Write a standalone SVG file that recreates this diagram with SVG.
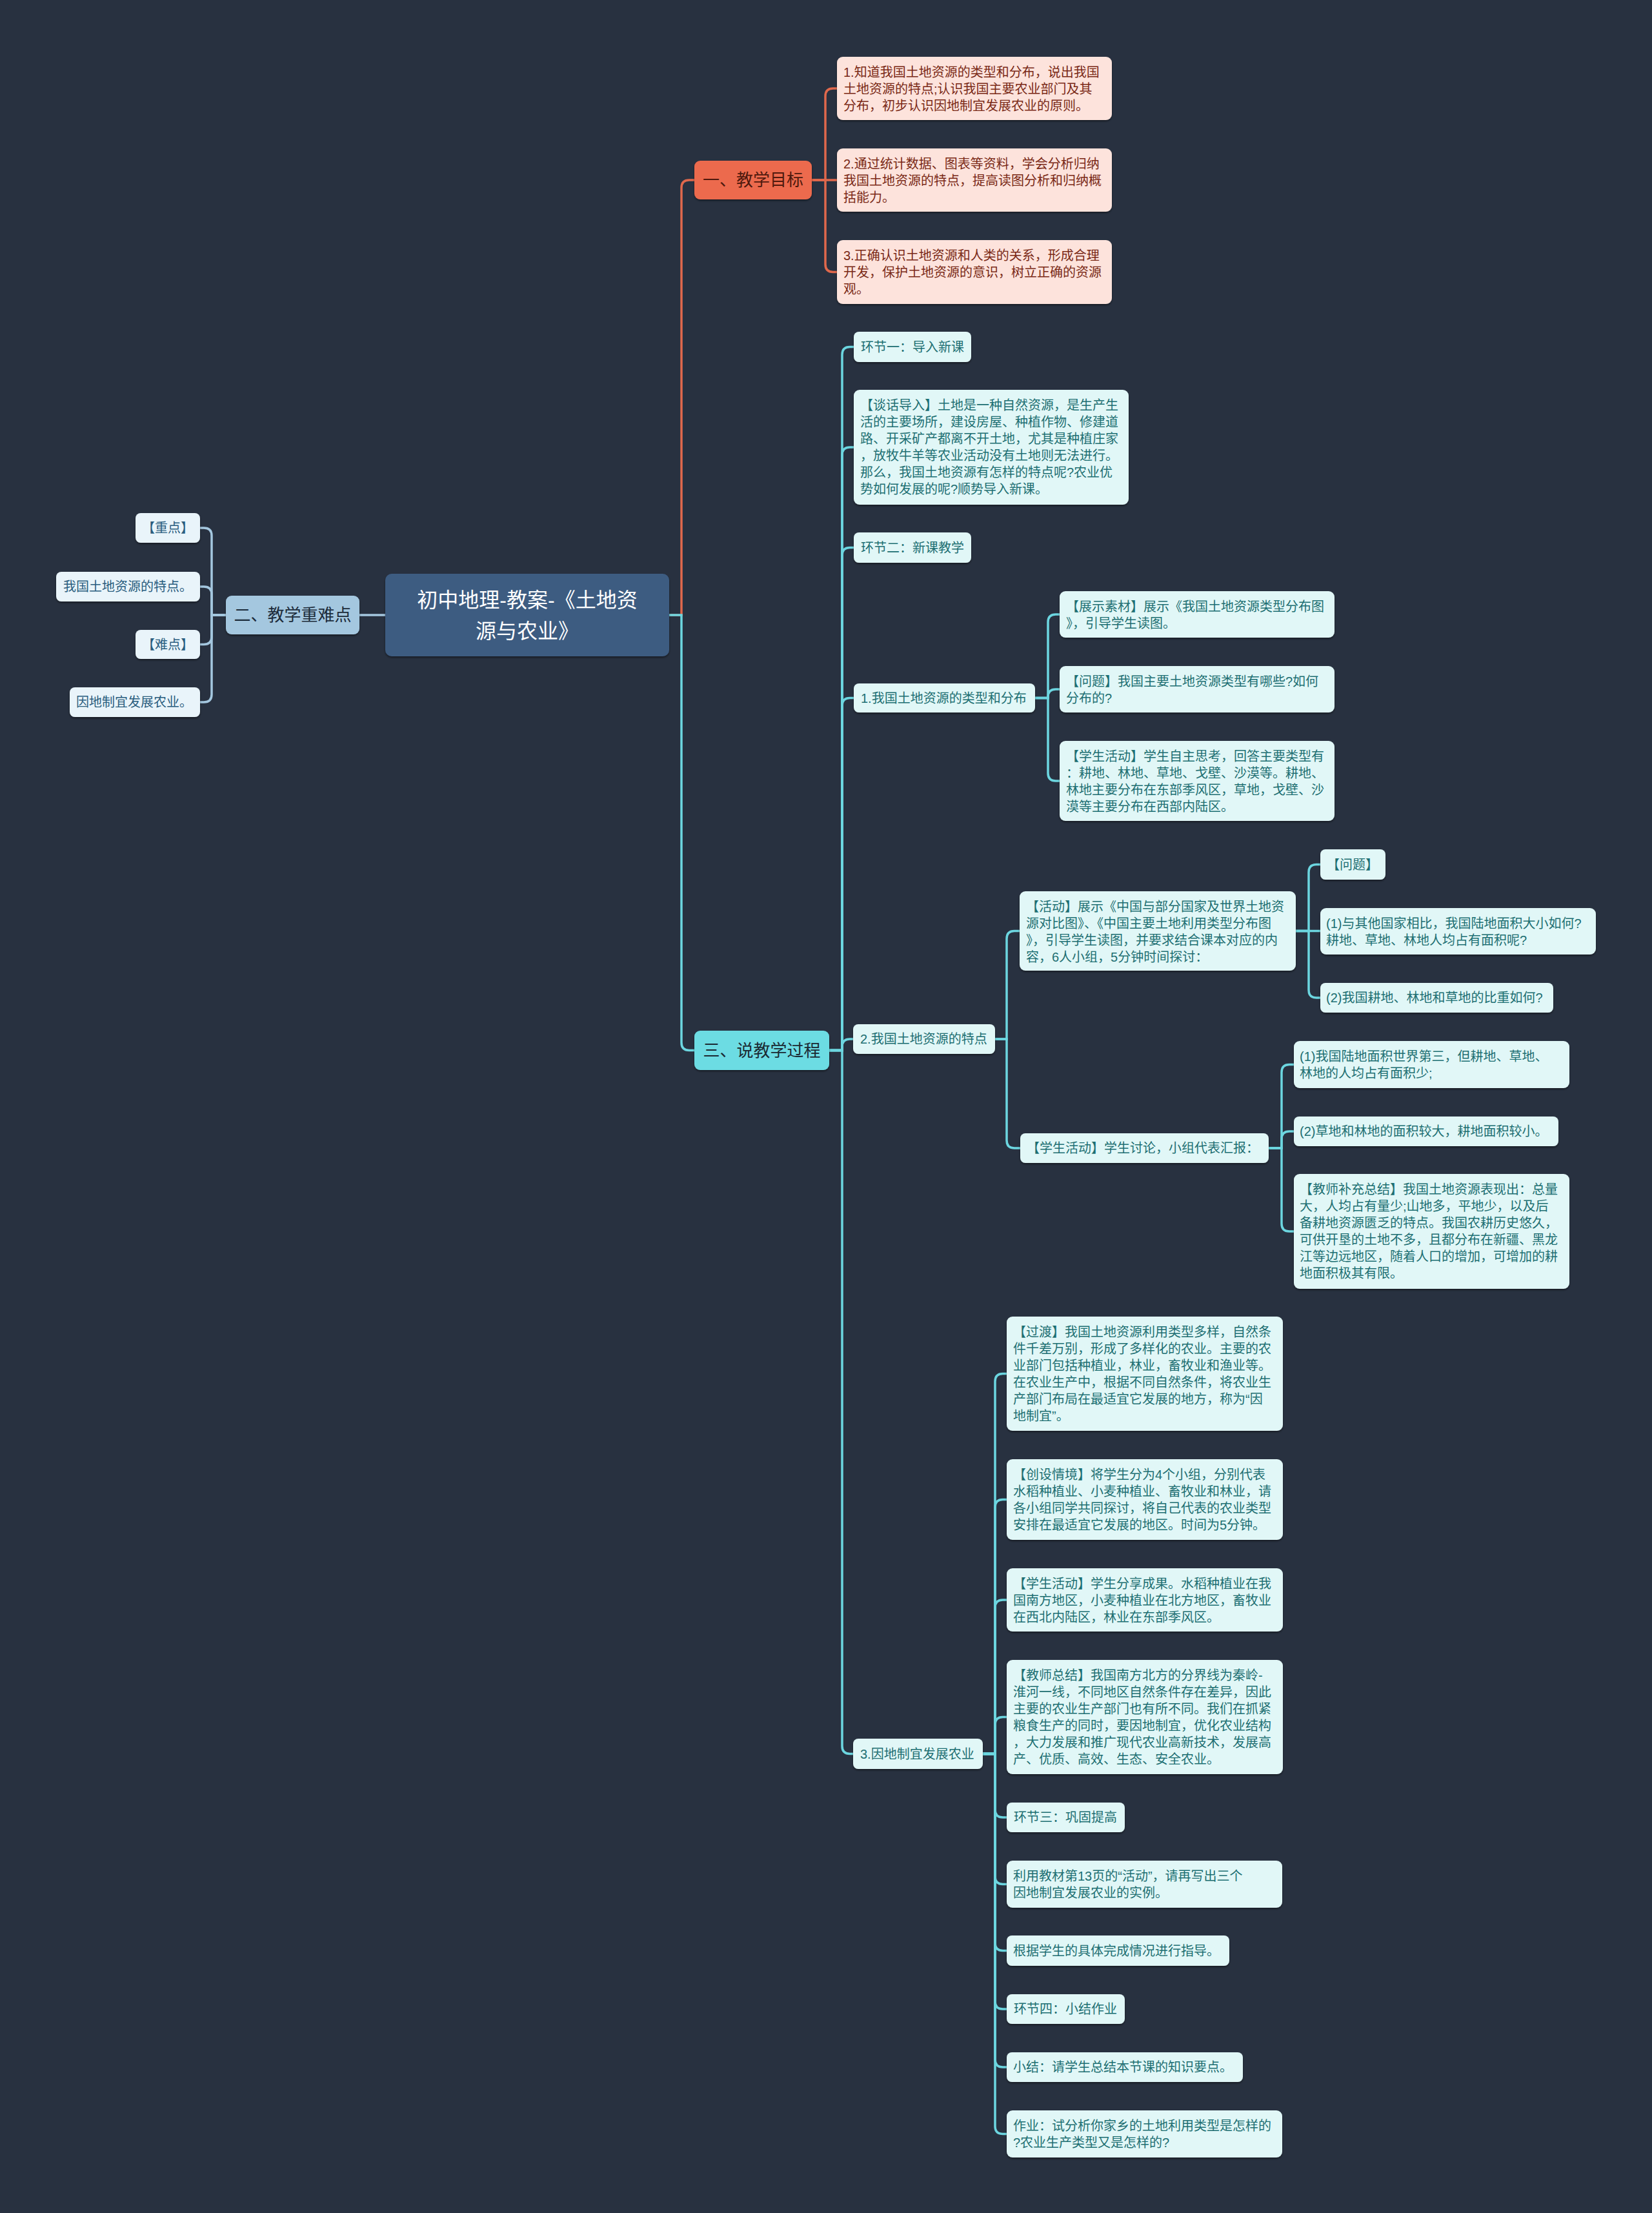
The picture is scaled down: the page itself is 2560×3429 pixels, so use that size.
<svg xmlns="http://www.w3.org/2000/svg" width="2560" height="3429" viewBox="0 0 2560 3429">
<defs>
<filter id="sh" x="-5%" y="-10%" width="110%" height="130%">
<feDropShadow dx="0" dy="2" stdDeviation="1.5" flood-color="#000" flood-opacity="0.45"/>
</filter>
</defs>
<style>
text{font-family:"Liberation Sans","Noto Sans CJK SC",sans-serif;font-size:20px}
.bg{fill:#283140}
.root rect{fill:#3d5b81;filter:url(#sh)}
.root text{fill:#ffffff;font-size:32px;text-anchor:middle}
.o1 rect{fill:#ec6a4d;filter:url(#sh)}
.o1 text{fill:#4f190d;font-size:26px;text-anchor:middle}
.o2 rect{fill:#fde3dc;filter:url(#sh)}
.o2 text{fill:#7a2916}
.b1 rect{fill:#a4c7df;filter:url(#sh)}
.b1 text{fill:#1c2b3a;font-size:26px;text-anchor:middle}
.b2 rect{fill:#e9f4fa;filter:url(#sh)}
.b2 text{fill:#2a5d7e}
.c1 rect{fill:#6cdce3;filter:url(#sh)}
.c1 text{fill:#1b2a33;font-size:26px;text-anchor:middle}
.c2 rect{fill:#e1f7f7;filter:url(#sh)}
.c2 text{fill:#1d6f72}
.lo{fill:none;stroke:#e0684c;stroke-width:3.5}
.lb{fill:none;stroke:#a4c7df;stroke-width:3.5}
.lc{fill:none;stroke:#6cd6e0;stroke-width:3.5}
</style>
<rect class="bg" x="0" y="0" width="2560" height="3429"/>

<g id="connectors">
<!-- trunk -->
<path class="lo" d="M1037,953 H1056 V291 Q1056,279 1068,279 H1076"/>
<path class="lc" d="M1037,953 H1056 V1615.5 Q1056,1627.5 1068,1627.5 H1076"/>
<path class="lb" d="M597,953 H557"/>
<!-- 一 children -->
<path class="lo" d="M1258,279 H1279 V149 Q1279,137 1291,137 H1297"/>
<path class="lo" d="M1258,279 H1297"/>
<path class="lo" d="M1258,279 H1279 V409.5 Q1279,421.5 1291,421.5 H1297"/>
<!-- 二 children -->
<path class="lb" d="M350,953 H328 V830 Q328,818 316,818 H310"/>
<path class="lb" d="M350,953 H328 V921 Q328,909 316,909 H310"/>
<path class="lb" d="M350,953 H328 V986.5 Q328,998.5 316,998.5 H310"/>
<path class="lb" d="M350,953 H328 V1076 Q328,1088 316,1088 H310"/>
<!-- 三 children -->
<path class="lc" d="M1285,1627.5 H1305 V549.5 Q1305,537.5 1317,537.5 H1323"/>
<path class="lc" d="M1285,1627.5 H1305 V705 Q1305,693 1317,693 H1323"/>
<path class="lc" d="M1285,1627.5 H1305 V860.5 Q1305,848.5 1317,848.5 H1323"/>
<path class="lc" d="M1285,1627.5 H1305 V1093.5 Q1305,1081.5 1317,1081.5 H1323"/>
<path class="lc" d="M1285,1627.5 H1305 V1622 Q1305,1610 1317,1610 H1322"/>
<path class="lc" d="M1285,1627.5 H1305 V2705.5 Q1305,2717.5 1317,2717.5 H1322"/>
<!-- 1. children -->
<path class="lc" d="M1604,1081.5 H1624 V964 Q1624,952 1636,952 H1642"/>
<path class="lc" d="M1604,1081.5 H1624 V1080 Q1624,1068 1636,1068 H1642"/>
<path class="lc" d="M1604,1081.5 H1624 V1198 Q1624,1210 1636,1210 H1642"/>
<!-- 2. children -->
<path class="lc" d="M1542,1610 H1560 V1454.5 Q1560,1442.5 1572,1442.5 H1580"/>
<path class="lc" d="M1542,1610 H1560 V1767 Q1560,1779 1572,1779 H1581"/>
<!-- 活动 children -->
<path class="lc" d="M2008,1442.5 H2028 V1351.5 Q2028,1339.5 2040,1339.5 H2046"/>
<path class="lc" d="M2008,1442.5 H2046"/>
<path class="lc" d="M2008,1442.5 H2028 V1534 Q2028,1546 2040,1546 H2046"/>
<!-- 讨论 children -->
<path class="lc" d="M1966,1779 H1986 V1661.5 Q1986,1649.5 1998,1649.5 H2005"/>
<path class="lc" d="M1966,1779 H1986 V1765 Q1986,1753 1998,1753 H2005"/>
<path class="lc" d="M1966,1779 H1986 V1896 Q1986,1908 1998,1908 H2005"/>
<!-- 3. children -->
<path class="lc" d="M1523,2717.5 H1542 V2140.5 Q1542,2128.5 1554,2128.5 H1560"/>
<path class="lc" d="M1523,2717.5 H1542 V2335.5 Q1542,2323.5 1554,2323.5 H1560"/>
<path class="lc" d="M1523,2717.5 H1542 V2491 Q1542,2479 1554,2479 H1560"/>
<path class="lc" d="M1523,2717.5 H1542 V2672.5 Q1542,2660.5 1554,2660.5 H1560"/>
<path class="lc" d="M1523,2717.5 H1542 V2804 Q1542,2816 1554,2816 H1560"/>
<path class="lc" d="M1523,2717.5 H1542 V2907.5 Q1542,2919.5 1554,2919.5 H1560"/>
<path class="lc" d="M1523,2717.5 H1542 V3010.5 Q1542,3022.5 1554,3022.5 H1560"/>
<path class="lc" d="M1523,2717.5 H1542 V3101 Q1542,3113 1554,3113 H1560"/>
<path class="lc" d="M1523,2717.5 H1542 V3191 Q1542,3203 1554,3203 H1560"/>
<path class="lc" d="M1523,2717.5 H1542 V3294.5 Q1542,3306.5 1554,3306.5 H1560"/>
</g>

<g id="root" class="root">
<rect x="597" y="889" width="440" height="128" rx="10"/>
<text x="817" y="941">初中地理-教案-《土地资</text>
<text x="817" y="989">源与农业》</text>
</g>

<g id="n1" class="o1">
<rect x="1076" y="249" width="182" height="60" rx="9"/>
<text x="1167" y="288">一、教学目标</text>
</g>
<g id="n1a" class="o2">
<rect x="1297" y="88" width="426" height="98" rx="9"/>
<text x="1307" y="119">1.知道我国土地资源的类型和分布，说出我国</text>
<text x="1307" y="145">土地资源的特点;认识我国主要农业部门及其</text>
<text x="1307" y="171">分布，初步认识因地制宜发展农业的原则。</text>
</g>
<g id="n1b" class="o2">
<rect x="1297" y="230" width="426" height="98" rx="9"/>
<text x="1307" y="261">2.通过统计数据、图表等资料，学会分析归纳</text>
<text x="1307" y="287">我国土地资源的特点，提高读图分析和归纳概</text>
<text x="1307" y="313">括能力。</text>
</g>
<g id="n1c" class="o2">
<rect x="1297" y="372" width="426" height="99" rx="9"/>
<text x="1307" y="403">3.正确认识土地资源和人类的关系，形成合理</text>
<text x="1307" y="429">开发，保护土地资源的意识，树立正确的资源</text>
<text x="1307" y="455">观。</text>
</g>

<g id="n2" class="b1">
<rect x="350" y="923" width="207" height="60" rx="9"/>
<text x="453.5" y="962">二、教学重难点</text>
</g>
<g id="n2a" class="b2">
<rect x="210" y="795" width="100" height="46" rx="8"/>
<text x="220" y="825">【重点】</text>
</g>
<g id="n2b" class="b2">
<rect x="87" y="886" width="223" height="46" rx="8"/>
<text x="98" y="916">我国土地资源的特点。</text>
</g>
<g id="n2c" class="b2">
<rect x="210" y="976" width="100" height="45" rx="8"/>
<text x="220" y="1006">【难点】</text>
</g>
<g id="n2d" class="b2">
<rect x="108" y="1065" width="202" height="46" rx="8"/>
<text x="118" y="1095">因地制宜发展农业。</text>
</g>

<g id="n3" class="c1">
<rect x="1076" y="1597" width="209" height="61" rx="9"/>
<text x="1180.5" y="1637">三、说教学过程</text>
</g>

<g id="s1" class="c2">
<rect x="1323" y="514" width="182" height="47" rx="8"/>
<text x="1334" y="545">环节一：导入新课</text>
</g>
<g id="s2" class="c2">
<rect x="1323" y="604" width="426" height="178" rx="9"/>
<text x="1333" y="635">【谈话导入】土地是一种自然资源，是生产生</text>
<text x="1333" y="661">活的主要场所，建设房屋、种植作物、修建道</text>
<text x="1333" y="687">路、开采矿产都离不开土地，尤其是种植庄家</text>
<text x="1333" y="713">，放牧牛羊等农业活动没有土地则无法进行。</text>
<text x="1333" y="739">那么，我国土地资源有怎样的特点呢?农业优</text>
<text x="1333" y="765">势如何发展的呢?顺势导入新课。</text>
</g>
<g id="s3" class="c2">
<rect x="1323" y="825" width="182" height="47" rx="8"/>
<text x="1334" y="856">环节二：新课教学</text>
</g>

<g id="p1" class="c2">
<rect x="1323" y="1059" width="281" height="45" rx="8"/>
<text x="1334" y="1089">1.我国土地资源的类型和分布</text>
</g>
<g id="p1a" class="c2">
<rect x="1642" y="916" width="426" height="72" rx="9"/>
<text x="1652" y="947">【展示素材】展示《我国土地资源类型分布图</text>
<text x="1652" y="973">》，引导学生读图。</text>
</g>
<g id="p1b" class="c2">
<rect x="1642" y="1032" width="426" height="72" rx="9"/>
<text x="1652" y="1063">【问题】我国主要土地资源类型有哪些?如何</text>
<text x="1652" y="1089">分布的?</text>
</g>
<g id="p1c" class="c2">
<rect x="1642" y="1148" width="426" height="124" rx="9"/>
<text x="1652" y="1179">【学生活动】学生自主思考，回答主要类型有</text>
<text x="1652" y="1205">：耕地、林地、草地、戈壁、沙漠等。耕地、</text>
<text x="1652" y="1231">林地主要分布在东部季风区，草地，戈壁、沙</text>
<text x="1652" y="1257">漠等主要分布在西部内陆区。</text>
</g>

<g id="p2" class="c2">
<rect x="1322" y="1587" width="220" height="46" rx="8"/>
<text x="1333" y="1617">2.我国土地资源的特点</text>
</g>
<g id="p2a" class="c2">
<rect x="1580" y="1381" width="428" height="123" rx="9"/>
<text x="1590" y="1412">【活动】展示《中国与部分国家及世界土地资</text>
<text x="1590" y="1438">源对比图》、《中国主要土地利用类型分布图</text>
<text x="1590" y="1464">》，引导学生读图，并要求结合课本对应的内</text>
<text x="1590" y="1490">容，6人小组，5分钟时间探讨：</text>
</g>
<g id="p2a1" class="c2">
<rect x="2046" y="1316" width="101" height="47" rx="8"/>
<text x="2056" y="1347">【问题】</text>
</g>
<g id="p2a2" class="c2">
<rect x="2046" y="1407" width="427" height="72" rx="9"/>
<text x="2055" y="1438">(1)与其他国家相比，我国陆地面积大小如何?</text>
<text x="2055" y="1464">耕地、草地、林地人均占有面积呢?</text>
</g>
<g id="p2a3" class="c2">
<rect x="2046" y="1523" width="361" height="46" rx="8"/>
<text x="2055" y="1553">(2)我国耕地、林地和草地的比重如何?</text>
</g>
<g id="p2b" class="c2">
<rect x="1581" y="1756" width="385" height="46" rx="8"/>
<text x="1591" y="1786">【学生活动】学生讨论，小组代表汇报：</text>
</g>
<g id="p2b1" class="c2">
<rect x="2005" y="1613" width="427" height="73" rx="9"/>
<text x="2014" y="1644">(1)我国陆地面积世界第三，但耕地、草地、</text>
<text x="2014" y="1670">林地的人均占有面积少;</text>
</g>
<g id="p2b2" class="c2">
<rect x="2005" y="1730" width="410" height="46" rx="8"/>
<text x="2014" y="1760">(2)草地和林地的面积较大，耕地面积较小。</text>
</g>
<g id="p2b3" class="c2">
<rect x="2005" y="1819" width="427" height="178" rx="9"/>
<text x="2014" y="1850">【教师补充总结】我国土地资源表现出：总量</text>
<text x="2014" y="1876">大，人均占有量少;山地多，平地少，以及后</text>
<text x="2014" y="1902">备耕地资源匮乏的特点。我国农耕历史悠久，</text>
<text x="2014" y="1928">可供开垦的土地不多，且都分布在新疆、黑龙</text>
<text x="2014" y="1954">江等边远地区，随着人口的增加，可增加的耕</text>
<text x="2014" y="1980">地面积极其有限。</text>
</g>

<g id="p3" class="c2">
<rect x="1322" y="2694" width="201" height="47" rx="8"/>
<text x="1333" y="2725">3.因地制宜发展农业</text>
</g>
<g id="p3a" class="c2">
<rect x="1560" y="2040" width="428" height="177" rx="9"/>
<text x="1570" y="2071">【过渡】我国土地资源利用类型多样，自然条</text>
<text x="1570" y="2097">件千差万别，形成了多样化的农业。主要的农</text>
<text x="1570" y="2123">业部门包括种植业，林业，畜牧业和渔业等。</text>
<text x="1570" y="2149">在农业生产中，根据不同自然条件，将农业生</text>
<text x="1570" y="2175">产部门布局在最适宜它发展的地方，称为“因</text>
<text x="1570" y="2201">地制宜”。</text>
</g>
<g id="p3b" class="c2">
<rect x="1560" y="2261" width="428" height="125" rx="9"/>
<text x="1570" y="2292">【创设情境】将学生分为4个小组，分别代表</text>
<text x="1570" y="2318">水稻种植业、小麦种植业、畜牧业和林业，请</text>
<text x="1570" y="2344">各小组同学共同探讨，将自己代表的农业类型</text>
<text x="1570" y="2370">安排在最适宜它发展的地区。时间为5分钟。</text>
</g>
<g id="p3c" class="c2">
<rect x="1560" y="2430" width="428" height="98" rx="9"/>
<text x="1570" y="2461">【学生活动】学生分享成果。水稻种植业在我</text>
<text x="1570" y="2487">国南方地区，小麦种植业在北方地区，畜牧业</text>
<text x="1570" y="2513">在西北内陆区，林业在东部季风区。</text>
</g>
<g id="p3d" class="c2">
<rect x="1560" y="2572" width="428" height="177" rx="9"/>
<text x="1570" y="2603">【教师总结】我国南方北方的分界线为秦岭-</text>
<text x="1570" y="2629">淮河一线，不同地区自然条件存在差异，因此</text>
<text x="1570" y="2655">主要的农业生产部门也有所不同。我们在抓紧</text>
<text x="1570" y="2681">粮食生产的同时，要因地制宜，优化农业结构</text>
<text x="1570" y="2707">，大力发展和推广现代农业高新技术，发展高</text>
<text x="1570" y="2733">产、优质、高效、生态、安全农业。</text>
</g>
<g id="p3e" class="c2">
<rect x="1560" y="2793" width="183" height="46" rx="8"/>
<text x="1571" y="2823">环节三：巩固提高</text>
</g>
<g id="p3f" class="c2">
<rect x="1560" y="2883" width="427" height="73" rx="9"/>
<text x="1570" y="2914">利用教材第13页的“活动”，请再写出三个</text>
<text x="1570" y="2940">因地制宜发展农业的实例。</text>
</g>
<g id="p3g" class="c2">
<rect x="1560" y="2999" width="345" height="47" rx="8"/>
<text x="1570" y="3030">根据学生的具体完成情况进行指导。</text>
</g>
<g id="p3h" class="c2">
<rect x="1560" y="3090" width="183" height="46" rx="8"/>
<text x="1571" y="3120">环节四：小结作业</text>
</g>
<g id="p3i" class="c2">
<rect x="1560" y="3180" width="366" height="46" rx="8"/>
<text x="1570" y="3210">小结：请学生总结本节课的知识要点。</text>
</g>
<g id="p3j" class="c2">
<rect x="1560" y="3270" width="427" height="73" rx="9"/>
<text x="1570" y="3301">作业：试分析你家乡的土地利用类型是怎样的</text>
<text x="1570" y="3327">?农业生产类型又是怎样的?</text>
</g>
</svg>
